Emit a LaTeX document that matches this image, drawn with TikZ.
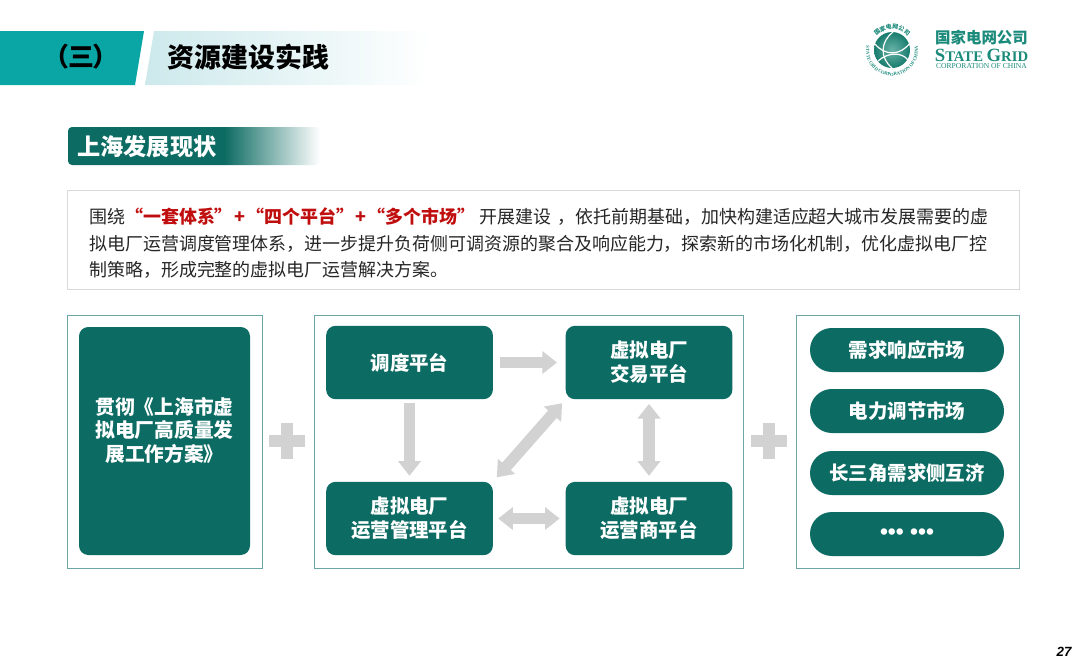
\documentclass[tikz,border=0pt]{standalone}
\usepackage{fontspec}
\setmainfont{Liberation Sans}
\newfontfamily\cjk{Noto Sans CJK SC}
\newfontfamily\cjktight[RawFeature=+palt]{Noto Sans CJK SC}
\newfontfamily\logoserif{Liberation Serif}
\usetikzlibrary{arrows.meta,decorations.text}
\definecolor{bandTeal}{HTML}{0AA6A6}
\definecolor{bandPale}{HTML}{CDE9EC}
\definecolor{boxTeal}{HTML}{0C6B62}
\definecolor{frameTeal}{HTML}{6BA6A5}
\definecolor{flowGray}{HTML}{D2D2D2}
\definecolor{noteRed}{HTML}{C00D0D}
\definecolor{bodyGray}{HTML}{262626}
\definecolor{logoGreen}{HTML}{1A8A7A}
\pgfdeclarehorizontalshading{sectionfade}{100bp}{color(0bp)=(boxTeal); color(56bp)=(boxTeal); color(75bp)=(white); color(100bp)=(white)}
\tikzset{
 frame/.style={draw=frameTeal,line width=.7pt,fill=white},
 platbox/.style={fill=boxTeal,rounded corners=7pt,text=white,font=\cjk\bfseries\fontsize{14.6}{18}\selectfont,align=center,minimum width=125pt,minimum height=55pt,inner sep=0pt,outer sep=0pt},
 pill/.style={fill=boxTeal,rounded corners=16.4pt,text=white,font=\cjk\bfseries\fontsize{14.6}{18}\selectfont,minimum width=145.5pt,minimum height=33pt,inner sep=0pt,outer sep=0pt},
 flow/.style={draw=flowGray,line width=8.5pt},
 tip/.tip={Triangle[width=16.5pt,length=11pt]},
 plusmark/.style={draw=flowGray,line width=8.5pt},
}
\begin{document}
\begin{tikzpicture}[x=.75pt,y=-.75pt]
\useasboundingbox (0,0) rectangle (1080,668);
% header bands
\fill[bandTeal] (0,31)--(144,31)--(135,85)--(0,85)--cycle;
\shade[left color=bandPale,right color=white] (154,31)--(430,31)--(421,85)--(145,85)--cycle;
\node[font=\cjktight\bfseries\fontsize{19.5}{24}\selectfont] (partno) at (81,57) {（三）};
\node[font=\cjk\bfseries\fontsize{20.2}{24}\selectfont,anchor=west] (title) at (163,57) {资源建设实践};
% logo
\shade[inner color=logoGreen!65!white,outer color=logoGreen!90!black] (892,50) circle (18);
\draw[white,line width=.9pt] (875,44) .. controls (885,56) and (900,56) .. (910,43);
\draw[white,line width=.9pt] (878,61) .. controls (888,52) and (902,52) .. (908,60);
\draw[white,line width=.9pt] (893,32) .. controls (880,42) and (880,58) .. (892,68);
\path[decorate,decoration={text along path,text align=center,text color=logoGreen,
 text={|\cjk\bfseries\fontsize{4.4}{5}\selectfont|国家电网公司}}]
 (871,50) arc[start angle=180,end angle=360,radius=21];
\path[decorate,decoration={text along path,text align=center,text color=logoGreen,
 text={|\logoserif\bfseries\fontsize{3.5}{5}\selectfont|STATE GRID CORPORATION OF CHINA}}]
 (892,50) ++(215:26) arc[start angle=215,end angle=-35,radius=26];
\node[logoGreen,font=\cjk\bfseries\fontsize{11.6}{14}\selectfont,inner sep=0pt] (logocn) at (981.5,38) {国家电网公司};
\node[logoGreen,font=\logoserif\bfseries\fontsize{14}{14}\selectfont,inner sep=0pt] (logoen) at (981.5,55) {S\fontsize{11}{14}\selectfont TATE \fontsize{14}{14}\selectfont G\fontsize{11}{14}\selectfont RID};
\node[logoGreen,font=\logoserif\fontsize{5.7}{6}\selectfont,inner sep=0pt] (logosub) at (981.5,66) {CORPORATION OF CHINA};
% section label
\shade[shading=sectionfade,rounded corners=3pt] (68,127) rectangle (320,165);
\node[text=white,font=\cjk\bfseries\fontsize{17.4}{20}\selectfont,anchor=west,inner sep=0pt] (section) at (77,147) {上海发展现状};
% intro text
\draw[draw=black!15,line width=.75pt,fill=white] (67,190) rectangle (1019,289);
\node[anchor=west,align=left,inner sep=0pt,text=bodyGray,font=\cjk\fontsize{13.47}{19.9}\selectfont] (intro) at (89,243.5)
 {围绕{\color{noteRed}\bfseries “一套体系”\hspace{1pt}+\hspace{1pt}“四个平台”\hspace{1pt}+\hspace{1pt}“多个市场”} 开展建设\hspace{4.5pt}，依托前期基础，加快构建适应超大城市发展需要的虚\\
 拟电厂运营调度管理体系，进一步提升负荷侧可调资源的聚合及响应能力，探索新的市场化机制，优化虚拟电厂控\\
 制策略，形成完整的虚拟电厂运营解决方案。};
% three frames
\draw[frame] (67,315) rectangle (262,568);
\draw[frame] (314,315) rectangle (743,568);
\draw[frame] (796,315) rectangle (1019,568);
\node[platbox,minimum width=128.25pt,minimum height=171pt,font=\cjk\bfseries\fontsize{14.8}{17.4}\selectfont] (plan) at (164.5,441) {贯彻《上海市虚\\拟电厂高质量发\\展工作方案》\\\mbox{}};
\foreach \x/\y/\name/\label in {409.5/362.5/dispatch/调度平台,649/362.5/trade/虚拟电厂\\交易平台,409.5/518.5/manage/虚拟电厂\\运营管理平台,649/518.5/operator/虚拟电厂\\运营商平台}{
 \node[platbox] (\name) at (\x,\y) {\label};
}
\foreach \y/\name/\label in {350/demand/需求响应市场,411/regulate/电力调节市场,473/delta/长三角需求侧互济}{
 \node[pill] (\name) at (907,\y) {\label};
}
\node[pill,font=\rmfamily\bfseries\fontsize{17}{18}\selectfont] (more) at (907,534) {\raisebox{-1pt}{••• •••}};
% flows between platforms
\draw[flow,-{tip},shorten <=5.5pt,shorten >=6.5pt] (dispatch) -- (trade);
\draw[flow,-{tip},xshift=-1pt,shorten <=2.5pt,shorten >=4.5pt] (dispatch) -- (manage);
\draw[flow,{tip}-{tip},shorten <=3.5pt,shorten >=4.5pt] (trade) -- (operator);
\draw[flow,{tip}-{tip},shorten <=4pt,shorten >=4.5pt] (manage) -- (operator);
\draw[flow,{tip}-{tip},shorten <=4.5pt,shorten >=4pt] (manage.north east) -- (trade.south west);
% plus marks
\foreach \x in {287,769}{
 \draw[plusmark] (\x-18,441)--(\x+18,441);
 \draw[plusmark] (\x,423)--(\x,459);
}
\node[font=\bfseries\itshape\fontsize{10}{12}\selectfont,inner sep=0pt] (pageno) at (1064,652) {27};
\end{tikzpicture}
\end{document}
